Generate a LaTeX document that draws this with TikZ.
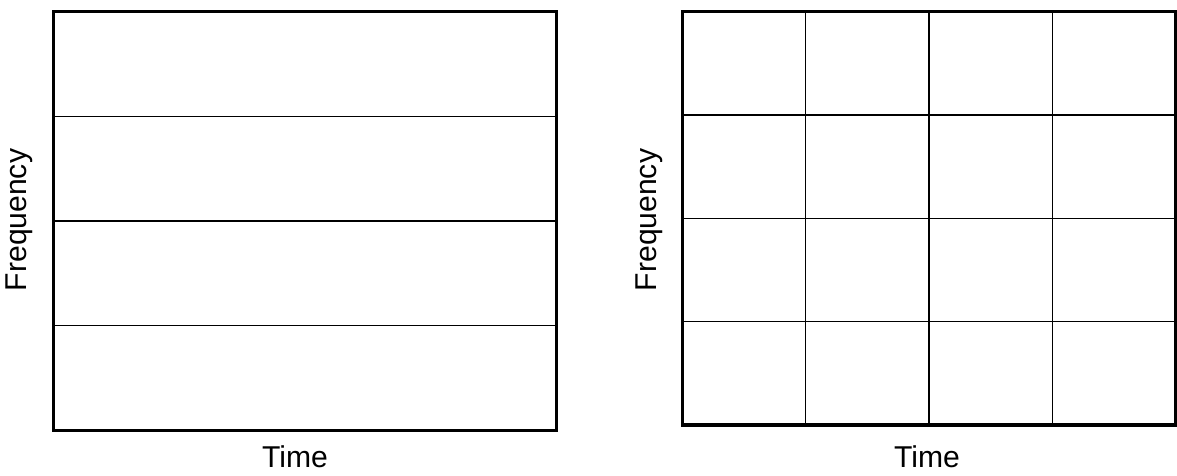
\documentclass[tikz,border=0pt]{standalone}
\usepackage{fontspec}
\setmainfont{Liberation Sans}
\usepackage{tikz}
\usetikzlibrary{calc, positioning}

\begin{document}
\begin{tikzpicture}[
  x=0.03cm, y=-0.03cm,
  frame/.style={draw, line width=2.6pt},
  cell/.style={draw, line width=1.15pt},
  axislabel/.style={font=\fontsize{25.7}{30}\selectfont, inner sep=0pt}
]
  \useasboundingbox (0,0) rectangle (1177,475);

  % ── frequency bands ──
  \begin{scope}
    \coordinate (l1) at (53.5, 11.5);
    \coordinate (l2) at (556.5, 430.5);
    \foreach \k in {1,2,3}
      \draw[cell] ($(l1)!\k/4!(l1 |- l2)$) -- ($(l1 -| l2)!\k/4!(l2)$);
    \draw[frame] (l1) rectangle (l2);
    \node[axislabel, rotate=90, anchor=mid] (lfreq) at (23, 220) {Frequency};
    \node[axislabel, anchor=base] (ltime) at (295, 467) {Time};
  \end{scope}

  % ── time-frequency tiles ──
  \begin{scope}
    \coordinate (r1) at (682.5, 11.5);
    \coordinate (r2) at (1175.5, 425);
    \foreach \k in {1,2,3} {
      \draw[cell] ($(r1)!\k/4!(r1 |- r2)$) -- ($(r1 -| r2)!\k/4!(r2)$);
      \draw[cell] ($(r1)!\k/4!(r1 -| r2)$) -- ($(r1 |- r2)!\k/4!(r2)$);
    }
    \draw[frame] (r1) rectangle (r2);
    \node[axislabel, rotate=90, anchor=mid] (rfreq) at (653, 220) {Frequency};
    \node[axislabel, anchor=base] (rtime) at (927, 467) {Time};
  \end{scope}
\end{tikzpicture}
\end{document}
